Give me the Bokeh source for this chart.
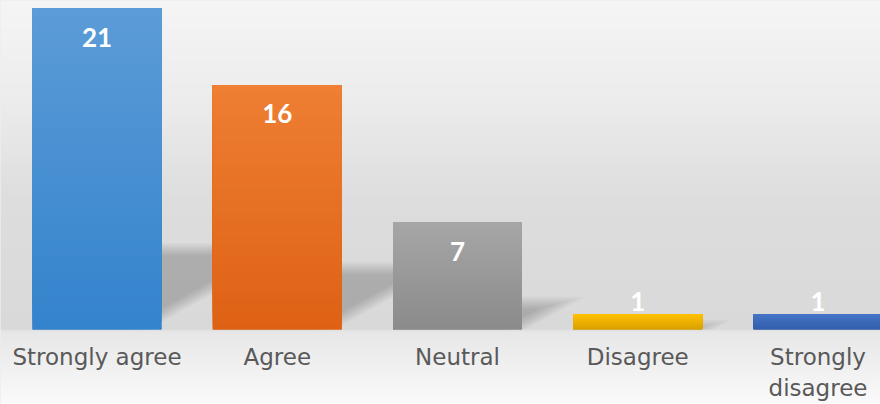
import numpy as np
from bokeh.plotting import figure
from bokeh.models import Range1d
from bokeh.core.properties import value
from bokeh.embed import file_html
from bokeh.resources import INLINE

# ---- data ----
categories = ["Strongly agree", "Agree", "Neutral", "Disagree", "Strongly\ndisagree"]
counts = [21, 16, 7, 1, 1]
value_labels = ["21", "16", "7", "1", "1"]
bar_top_colors = ["#5c9cd7", "#ee7f33", "#a6a6a6", "#ffc100", "#4674c6"]
bar_bottom_colors = ["#3483cd", "#de6114", "#8b8b8b", "#d9a000", "#325fab"]

# ---- layout ----
W, H = 880, 404
X0, X1 = -0.03537, 4.8467
Y0, Y1 = -4.906, 21.523
px_x = W / (X1 - X0)
px_y = H / (Y1 - Y0)
BAR_W = 0.7157

p = figure(width=W, height=H, x_range=Range1d(X0, X1), y_range=Range1d(Y0, Y1),
           output_backend="svg", toolbar_location=None, min_border=0,
           x_axis_location=None, y_axis_location=None,
           background_fill_color="#dddddd", border_fill_color="#eeeeee")
p.outline_line_color = None
p.grid.visible = False

# ---- background gradient (style) ----
stop_y = [0, 100, 200, 328.5, 331, 404]
stop_v = [245, 236, 221, 217, 231, 250]
rows = np.arange(H) + 0.5
g = np.interp(rows, stop_y, stop_v)[::-1].round().astype(np.uint8)
img = np.empty((H, 1, 4), dtype=np.uint8)
img[:, 0, 0] = g
img[:, 0, 1] = g
img[:, 0, 2] = g
img[:, 0, 3] = 255
p.image_rgba(image=[img.view(np.uint32).reshape(H, 1)], x=X0, y=Y0, dw=X1 - X0, dh=Y1 - Y0)

n = len(categories)
xc = np.arange(n) + 0.5
vals = np.array(counts, dtype=float)

# ---- perspective shadows (soft, layered) ----
slope = 0.55
for e in np.linspace(-6, 6, 7):
    xs, ys = [], []
    for i, v in enumerate(vals):
        h_px = v * px_y
        sh = 0.25 * h_px + e
        if sh <= 0:
            continue
        x0 = xc[i] - BAR_W / 2
        xr = xc[i] + BAR_W / 2 - (0.08 * h_px - e * 2.0) / px_x
        xtr = xr + (sh / slope) / px_x
        ty = sh / px_y
        xs.append([x0, xr, xtr, x0])
        ys.append([0, 0, ty, ty])
    p.patches(xs, ys, fill_color="black", fill_alpha=0.032, line_color=None)

# ---- bars (vertical gradient built from overlapping slices) ----
p.vbar(x=xc, top=vals, bottom=0, width=BAR_W,
       fill_color=bar_bottom_colors, line_color=None)


def hex2rgb(h):
    return np.array([int(h[i:i + 2], 16) for i in (1, 3, 5)], dtype=float)


N = 40
L, R, B, T, C = [], [], [], [], []
for i, v in enumerate(vals):
    ct, cb = hex2rgb(bar_top_colors[i]), hex2rgb(bar_bottom_colors[i])
    for k in range(N):
        t = (k + 0.5) / N
        c = cb + (ct - cb) * t
        L.append(xc[i] - BAR_W / 2)
        R.append(xc[i] + BAR_W / 2)
        B.append(v * k / N)
        T.append(v)
        C.append("#%02x%02x%02x" % tuple(int(round(q)) for q in c))
p.quad(left=L, right=R, bottom=B, top=T, fill_color=C, line_color=None)

# ---- value labels ----
label_y = np.maximum(vals - 1.9, 1.83)
p.text(x=xc, y=label_y, text=value_labels, text_color="white",
       text_font=value("Lato"), text_font_style="bold", text_font_size="26px",
       text_align="center", text_baseline="middle")

# ---- category labels ----
p.text(x=xc, y=[-0.94] * n, text=categories, text_color="#595959",
       text_font=value("DejaVu Sans"), text_font_size="23px",
       text_align="center", text_baseline="top", text_line_height=1.2)

open("out.html", "w").write(file_html(p, INLINE))
